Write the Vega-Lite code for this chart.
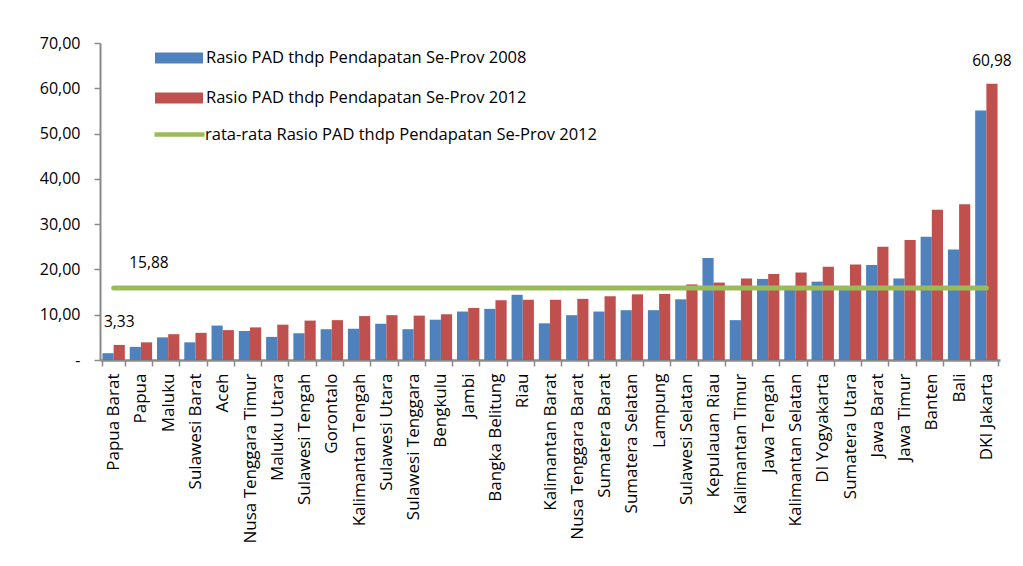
{
  "$schema": "https://vega.github.io/schema/vega-lite/v6.json",
  "width": 900,
  "height": 317,
  "autosize": {"type": "none"},
  "padding": {"left": 100, "top": 43, "right": 23, "bottom": 206},
  "background": "white",
  "config": {
    "view": {"stroke": null},
    "font": "Open Sans",
    "legend": {"padding": 0}
  },
  "datasets": {
    "prov": [
      {"p": "Papua Barat", "a": 1.5, "b": 3.33, "avg": 15.88},
      {"p": "Papua", "a": 2.9, "b": 3.9, "avg": 15.88},
      {"p": "Maluku", "a": 5.0, "b": 5.7, "avg": 15.88},
      {"p": "Sulawesi Barat", "a": 3.9, "b": 6.0, "avg": 15.88},
      {"p": "Aceh", "a": 7.6, "b": 6.6, "avg": 15.88},
      {"p": "Nusa Tenggara Timur", "a": 6.4, "b": 7.2, "avg": 15.88},
      {"p": "Maluku Utara", "a": 5.1, "b": 7.8, "avg": 15.88},
      {"p": "Sulawesi Tengah", "a": 5.9, "b": 8.7, "avg": 15.88},
      {"p": "Gorontalo", "a": 6.8, "b": 8.8, "avg": 15.88},
      {"p": "Kalimantan Tengah", "a": 6.9, "b": 9.7, "avg": 15.88},
      {"p": "Sulawesi Utara", "a": 8.0, "b": 9.9, "avg": 15.88},
      {"p": "Sulawesi Tenggara", "a": 6.8, "b": 9.8, "avg": 15.88},
      {"p": "Bengkulu", "a": 8.9, "b": 10.1, "avg": 15.88},
      {"p": "Jambi", "a": 10.7, "b": 11.5, "avg": 15.88},
      {"p": "Bangka Belitung", "a": 11.3, "b": 13.2, "avg": 15.88},
      {"p": "Riau", "a": 14.4, "b": 13.3, "avg": 15.88},
      {"p": "Kalimantan Barat", "a": 8.1, "b": 13.3, "avg": 15.88},
      {"p": "Nusa Tenggara Barat", "a": 9.9, "b": 13.5, "avg": 15.88},
      {"p": "Sumatera Barat", "a": 10.7, "b": 14.1, "avg": 15.88},
      {"p": "Sumatera Selatan", "a": 11.0, "b": 14.5, "avg": 15.88},
      {"p": "Lampung", "a": 11.0, "b": 14.6, "avg": 15.88},
      {"p": "Sulawesi Selatan", "a": 13.4, "b": 16.7, "avg": 15.88},
      {"p": "Kepulauan Riau", "a": 22.5, "b": 17.1, "avg": 15.88},
      {"p": "Kalimantan Timur", "a": 8.8, "b": 18.0, "avg": 15.88},
      {"p": "Jawa Tengah", "a": 17.9, "b": 19.0, "avg": 15.88},
      {"p": "Kalimantan Selatan", "a": 15.7, "b": 19.3, "avg": 15.88},
      {"p": "DI Yogyakarta", "a": 17.3, "b": 20.6, "avg": 15.88},
      {"p": "Sumatera Utara", "a": 15.8, "b": 21.1, "avg": 15.88},
      {"p": "Jawa Barat", "a": 21.0, "b": 25.0, "avg": 15.88},
      {"p": "Jawa Timur", "a": 18.0, "b": 26.5, "avg": 15.88},
      {"p": "Banten", "a": 27.2, "b": 33.2, "avg": 15.88},
      {"p": "Bali", "a": 24.4, "b": 34.4, "avg": 15.88},
      {"p": "DKI Jakarta", "a": 55.1, "b": 60.98, "avg": 15.88}
    ],
    "barlabels": [
      {"p": "Papua Barat", "series": "b", "value": 3.33, "label": "3,33"},
      {"p": "DKI Jakarta", "series": "b", "value": 60.98, "label": "60,98"}
    ],
    "avglabel": [
      {"p": "Papua", "value": 15.88, "label": "15,88"}
    ]
  },
  "layer": [
    {
      "data": {"name": "prov"},
      "transform": [{"fold": ["a", "b"], "as": ["series", "value"]}],
      "mark": {"type": "bar"},
      "encoding": {
        "x": {
          "field": "p",
          "type": "nominal",
          "title": null,
          "scale": {
            "domain": ["Papua Barat", "Papua", "Maluku", "Sulawesi Barat", "Aceh", "Nusa Tenggara Timur", "Maluku Utara", "Sulawesi Tengah", "Gorontalo", "Kalimantan Tengah", "Sulawesi Utara", "Sulawesi Tenggara", "Bengkulu", "Jambi", "Bangka Belitung", "Riau", "Kalimantan Barat", "Nusa Tenggara Barat", "Sumatera Barat", "Sumatera Selatan", "Lampung", "Sulawesi Selatan", "Kepulauan Riau", "Kalimantan Timur", "Jawa Tengah", "Kalimantan Selatan", "DI Yogyakarta", "Sumatera Utara", "Jawa Barat", "Jawa Timur", "Banten", "Bali", "DKI Jakarta"],
            "paddingInner": 0.18,
            "paddingOuter": 0.09
          },
          "axis": {
            "labelAngle": -90,
            "labelFontSize": 17,
            "labelColor": "#000000",
            "labelPadding": 7,
            "labelLimit": 300,
            "domainColor": "#8a8a8a",
            "domainWidth": 2.5,
            "tickColor": "#8a8a8a",
            "tickWidth": 1.5,
            "tickSize": 6,
            "tickBand": "extent"
          }
        },
        "xOffset": {"field": "series", "type": "nominal", "scale": {"domain": ["a", "b"]}},
        "y": {
          "field": "value",
          "type": "quantitative",
          "title": null,
          "scale": {"domain": [0, 70]},
          "axis": {
            "values": [0, 10, 20, 30, 40, 50, 60, 70],
            "labelExpr": "datum.value == 0 ? '-' : replace(format(datum.value, '.2f'), '.', ',')",
            "labelFontSize": 16,
            "labelColor": "#000000",
            "labelPadding": 14,
            "grid": false,
            "domainColor": "#8a8a8a",
            "domainWidth": 2,
            "tickColor": "#8a8a8a",
            "tickWidth": 1.5,
            "tickSize": 6
          }
        },
        "color": {
          "field": "series",
          "type": "nominal",
          "scale": {"domain": ["a", "b"], "range": ["#4F81BD", "#C0504D"]},
          "legend": {
            "title": null,
            "orient": "none",
            "legendX": 55,
            "legendY": -9,
            "symbolType": "M-1,-0.23H1V0.23H-1Z",
            "symbolSize": 2304,
            "symbolStrokeWidth": 0,
            "labelFontSize": 16.5,
            "labelColor": "#000000",
            "labelOffset": 3,
            "rowPadding": 7,
            "labelLimit": 500,
            "labelExpr": "datum.label == 'a' ? 'Rasio PAD  thdp Pendapatan Se-Prov 2008' : 'Rasio PAD thdp Pendapatan  Se-Prov 2012'"
          }
        }
      }
    },
    {
      "data": {"name": "prov"},
      "mark": {"type": "line", "strokeWidth": 5, "strokeCap": "round"},
      "encoding": {
        "x": {"field": "p", "type": "nominal"},
        "y": {"field": "avg", "type": "quantitative"},
        "stroke": {
          "datum": "rata-rata Rasio PAD thdp Pendapatan Se-Prov 2012",
          "type": "nominal",
          "scale": {"range": ["#9BBB59"]},
          "legend": {
            "title": null,
            "orient": "none",
            "legendX": 52,
            "legendY": 64,
            "symbolType": "stroke",
            "symbolSize": 2500,
            "symbolStrokeWidth": 4.5,
            "labelFontSize": 16.5,
            "labelColor": "#000000",
            "labelOffset": -2,
            "labelLimit": 500
          }
        }
      }
    },
    {
      "data": {"name": "barlabels"},
      "mark": {"type": "text", "fontSize": 15.5, "color": "#000000", "baseline": "middle", "dy": -23},
      "encoding": {
        "x": {"field": "p", "type": "nominal"},
        "xOffset": {"field": "series", "type": "nominal"},
        "y": {"field": "value", "type": "quantitative"},
        "text": {"field": "label"}
      }
    },
    {
      "data": {"name": "avglabel"},
      "mark": {"type": "text", "fontSize": 15.5, "color": "#000000", "baseline": "middle", "dx": 8, "dy": -25},
      "encoding": {
        "x": {"field": "p", "type": "nominal"},
        "y": {"field": "value", "type": "quantitative"},
        "text": {"field": "label"}
      }
    }
  ]
}
